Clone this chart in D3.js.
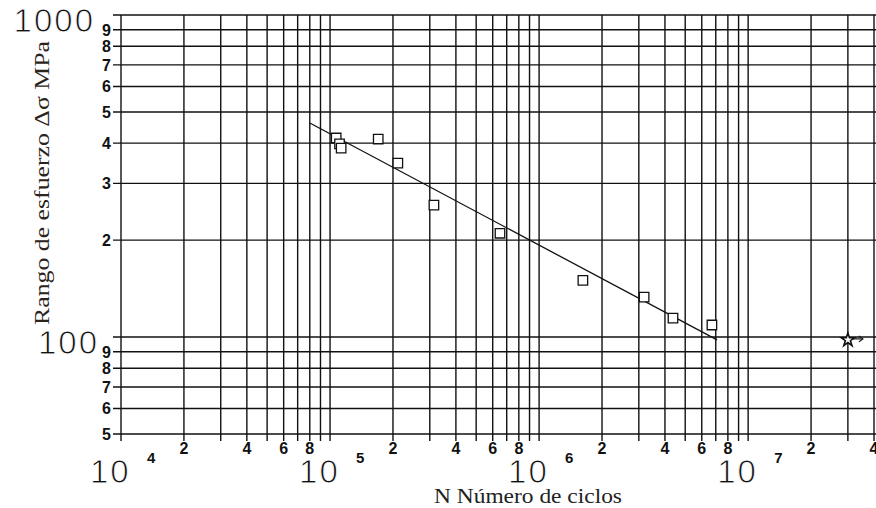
<!DOCTYPE html>
<html>
<head>
<meta charset="utf-8">
<script src="https://cdn.jsdelivr.net/npm/d3@7"></script>
<style>
  body { margin: 0; background: #fff; }
  svg { display: block; }
</style>
</head>
<body>
<svg id="chart" width="876" height="508"></svg>
<script>
// Fatigue test results: stress range vs. number of cycles (log-log S-N plot)
const cycles      = [1.07e5, 1.11e5, 1.13e5, 1.70e5, 2.11e5, 3.14e5, 6.5e5, 1.62e6, 3.18e6, 4.37e6, 6.71e6];
const stressRange = [415, 398, 386, 412, 347, 257, 210, 150, 133, 114.5, 109];

// Run-out specimen (did not fail)
const runoutCycles = [3.0e7];
const runoutStress = [98];

// Fitted S-N line end points
const fitCycles = [8.0e4, 7.1e6];
const fitStress = [462, 98];

// Axis labelling
const xDecades      = [1e4, 1e5, 1e6, 1e7];
const xDecadeExp    = ["4", "5", "6", "7"];
const xMinorDigits  = [2, 4, 6, 8];
const yMinorDigits  = [9, 8, 7, 6, 5, 4, 3, 2];
const yDecades      = [1000, 100];
const xTitle = "N Número de ciclos";
const yTitle = "Rango de esfuerzo Δσ MPa";

const svg = d3.select("#chart");
const W = 876, H = 508;

const x = d3.scaleLog().domain([1e4, 4e7]).range([121, 874]);
const y = d3.scaleLog().domain([50, 1000]).range([434, 15]);

const gridTop = 15, gridBottom = 441, gridLeft = 113, gridRight = W;

// Grid values: every 1..9 of each decade within the domain
const xGrid = [];
xDecades.forEach(d => d3.range(1, 10).forEach(m => { if (m * d <= 4e7 * 1.0001) xGrid.push(m * d); }));
const yGrid = [];
[10, 100].forEach(d => d3.range(1, 10).forEach(m => { const v = m * d; if (v >= 50 && v <= 1000) yGrid.push(v); }));
yGrid.push(1000);

const grid = svg.append("g").attr("stroke", "#111").attr("stroke-width", 1.4).attr("fill", "none");
grid.selectAll("line.v").data(xGrid).join("line")
  .attr("class", "v")
  .attr("x1", d => x(d)).attr("x2", d => x(d))
  .attr("y1", gridTop).attr("y2", gridBottom);
grid.selectAll("line.h").data(yGrid).join("line")
  .attr("class", "h")
  .attr("x1", gridLeft).attr("x2", gridRight)
  .attr("y1", d => y(d)).attr("y2", d => y(d));

// X minor digit labels
const xMinor = [];
xDecades.forEach(d => xMinorDigits.forEach(m => { if (m * d <= 4e7 * 1.0001) xMinor.push({ v: m * d, t: String(m) }); }));
svg.append("g")
  .attr("font-family", "Liberation Sans, Arial, sans-serif")
  .attr("font-weight", "bold").attr("font-size", 16).attr("fill", "#111")
  .attr("text-anchor", "middle")
  .selectAll("text").data(xMinor).join("text")
  .attr("x", d => x(d.v)).attr("y", 454)
  .text(d => d.t);

// X decade labels: "10" with superscript exponent (thin strokes via white outline)
const dec = svg.append("g").attr("fill", "#111").attr("font-family", "Liberation Sans, Arial, sans-serif");
dec.selectAll("text.base").data(xDecades).join("text")
  .attr("class", "base")
  .attr("x", d => x(d) - 31).attr("y", 483)
  .attr("font-size", 33).attr("letter-spacing", 2)
  .attr("stroke", "#fff").attr("stroke-width", 0.9)
  .text("10");
dec.selectAll("text.exp").data(xDecades).join("text")
  .attr("class", "exp")
  .attr("x", d => x(d) + 26).attr("y", 463)
  .attr("font-size", 15).attr("font-weight", "bold")
  .text((d, i) => xDecadeExp[i]);

// Y minor digit labels for both decades
const yMinor = [];
[100, 10].forEach(d => yMinorDigits.forEach(m => { const v = m * d; if (v >= 50) yMinor.push({ v, t: String(m) }); }));
svg.append("g")
  .attr("font-family", "Liberation Sans, Arial, sans-serif")
  .attr("font-weight", "bold").attr("font-size", 16).attr("fill", "#111")
  .attr("text-anchor", "end")
  .selectAll("text").data(yMinor).join("text")
  .attr("x", 111).attr("y", d => y(d.v) + 6)
  .text(d => d.t);

// Y decade labels
svg.append("g")
  .attr("font-family", "Liberation Sans, Arial, sans-serif")
  .attr("font-size", 33).attr("letter-spacing", 2).attr("fill", "#111")
  .attr("stroke", "#fff").attr("stroke-width", 0.9)
  .attr("text-anchor", "end")
  .selectAll("text").data(yDecades).join("text")
  .attr("x", d => d === 1000 ? 95 : 99).attr("y", d => y(d) + 17)
  .text(d => String(d));

// Fitted S-N line
svg.append("path")
  .datum(fitCycles.map((c, i) => [c, fitStress[i]]))
  .attr("fill", "none").attr("stroke", "#111").attr("stroke-width", 1.3)
  .attr("d", d3.line().x(d => x(d[0])).y(d => y(d[1])));

// Test points (open squares)
svg.append("g")
  .selectAll("path").data(cycles.map((c, i) => [c, stressRange[i]])).join("path")
  .attr("transform", d => `translate(${x(d[0])},${y(d[1])})`)
  .attr("d", d3.symbol(d3.symbolSquare, 90))
  .attr("fill", "#fff").attr("stroke", "#111").attr("stroke-width", 1.3);

// Run-out point: star with arrow pointing to higher cycles
const ro = svg.append("g");
const roData = runoutCycles.map((c, i) => [c, runoutStress[i]]);
ro.selectAll("line").data(roData).join("line")
  .attr("x1", d => x(d[0]) + 4).attr("x2", d => x(d[0]) + 14)
  .attr("y1", d => y(d[1]) - 1).attr("y2", d => y(d[1]) - 1)
  .attr("stroke", "#111").attr("stroke-width", 1.2);
ro.selectAll("path.arrow").data(roData).join("path")
  .attr("class", "arrow")
  .attr("d", d => { const px = x(d[0]) + 15, py = y(d[1]) - 1; return `M${px - 4},${py - 3}L${px},${py}L${px - 4},${py + 3}`; })
  .attr("fill", "none").attr("stroke", "#111").attr("stroke-width", 1.2);
ro.selectAll("path.star").data(roData).join("path")
  .attr("class", "star")
  .attr("transform", d => `translate(${x(d[0])},${y(d[1])})`)
  .attr("d", d3.symbol(d3.symbolStar, 55))
  .attr("fill", "#fff").attr("stroke", "#111").attr("stroke-width", 1.6);

// Axis titles
svg.append("text")
  .attr("x", 528).attr("y", 503)
  .attr("text-anchor", "middle")
  .attr("font-family", "Liberation Serif, Times New Roman, serif")
  .attr("font-size", 21).attr("fill", "#222")
  .attr("textLength", 188).attr("lengthAdjust", "spacingAndGlyphs")
  .text(xTitle);

svg.append("text")
  .attr("transform", "translate(49,183) rotate(-90)")
  .attr("text-anchor", "middle")
  .attr("font-family", "Liberation Serif, Times New Roman, serif")
  .attr("font-size", 20).attr("fill", "#2a2420")
  .attr("textLength", 284).attr("lengthAdjust", "spacingAndGlyphs")
  .text(yTitle);
</script>
</body>
</html>
